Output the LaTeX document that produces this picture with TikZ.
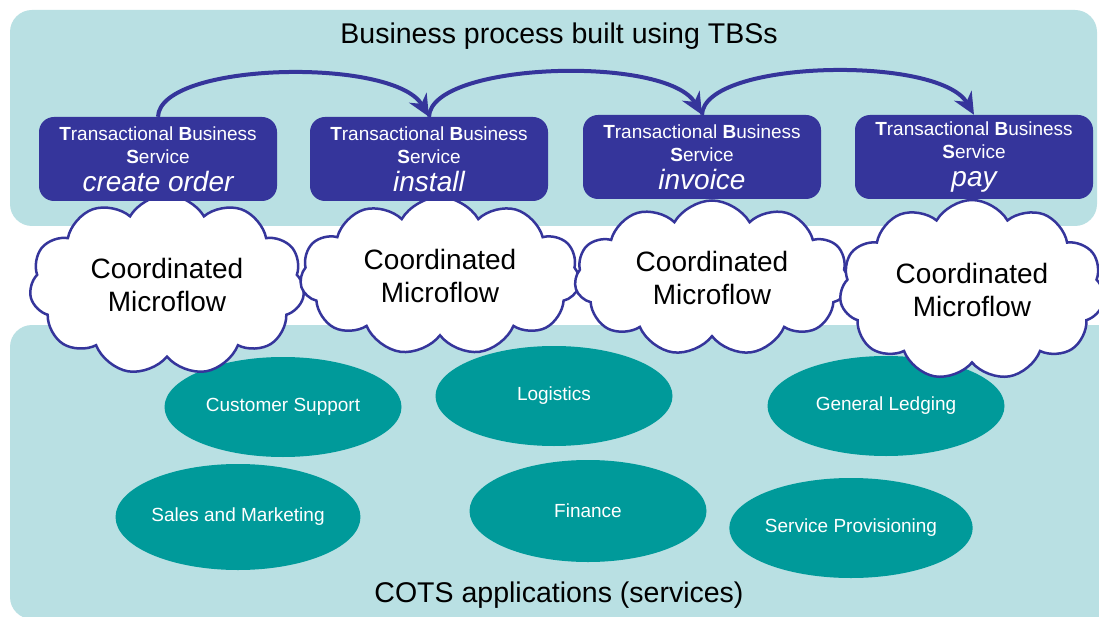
\documentclass[tikz,border=0pt]{standalone}
\usepackage{fontspec}
\setmainfont{Liberation Sans}
\usetikzlibrary{shapes.symbols,shapes.geometric,arrows.meta}
\definecolor{panelbg}{HTML}{B9E0E3}
\definecolor{tbsblue}{HTML}{35359B}
\definecolor{appteal}{HTML}{009A9A}
\newcommand\tbsnamefont{\fontsize{28}{30}\selectfont\itshape}

\begin{document}
\begin{tikzpicture}[x=1pt,y=-1pt,
  panel/.style={fill=panelbg, rounded corners=22pt},
  tbsbox/.style={fill=tbsblue, rounded corners=15pt, minimum width=238pt,
    minimum height=84pt, inner sep=0pt, text=white, align=center,
    font=\fontsize{19}{23}\selectfont},
  microflow/.style={cloud, cloud puffs=11, cloud puff arc=120,
    cloud ignores aspect, draw=tbsblue,
    line width=2.5pt, fill=white, inner sep=0pt, align=center,
    font=\fontsize{28}{33}\selectfont},
  app/.style={ellipse, fill=appteal, minimum width=237pt, minimum height=100pt,
    inner sep=0pt, text=white, font=\fontsize{19}{22}\selectfont},
  flow/.style={draw=tbsblue, line width=4pt,
    -{Stealth[length=22pt,width=20pt,inset=7pt]}},
  heading/.style={font=\fontsize{28.5}{32}\selectfont, anchor=base}
]
\useasboundingbox (0,0) rectangle (1099,617);
\fill[white] (0,0) rectangle (1099,617);

% background panels
\path[panel] (10,10) rectangle (1097,226);
\path[panel] (10,325) rectangle (1125,619);

% headings
\node[heading] (toptitle) at (559,44) {Business process built using TBSs};
\node[heading] (bottomtitle) at (559,602) {COTS applications (services)};

% COTS applications
\node[app] (cs) at (283,407) {Customer Support};
\node[app] (lg) at (554,396) {Logistics};
\node[app] (gl) at (886,406) {General Ledging};
\node[app, minimum height=106pt] (sm) at (238,517) {Sales and Marketing};
\node[app, minimum height=102pt] (fi) at (588,511) {Finance};
\node[app] (sp) at (851,528) {Service Provisioning};

% coordinated microflows
\node[microflow, minimum width=275pt, minimum height=180pt] (c1) at (167,285) {Coordinated\\Microflow};
\node[microflow, minimum width=280pt, minimum height=158pt] (c2) at (440,276) {Coordinated\\Microflow};
\node[microflow, minimum width=275pt, minimum height=155pt] (c3) at (712,278) {Coordinated\\Microflow};
\node[microflow, minimum width=265pt, minimum height=180pt] (c4) at (972,290) {Coordinated\\Microflow};

% transactional business services
\node[tbsbox] (b1) at (158,159) {\textbf{T}ransactional \textbf{B}usiness\\\textbf{S}ervice\\[5pt]{\tbsnamefont create order}};
\node[tbsbox] (b2) at (429,159) {\textbf{T}ransactional \textbf{B}usiness\\\textbf{S}ervice\\[5pt]{\tbsnamefont install}};
\node[tbsbox] (b3) at (702,157) {\textbf{T}ransactional \textbf{B}usiness\\\textbf{S}ervice\\[5pt]{\tbsnamefont invoice}};
\node[tbsbox] (b4) at (974,157) {\textbf{T}ransactional \textbf{B}usiness\\\textbf{S}ervice\\[5pt]{\tbsnamefont pay}};

% process flow
\draw[flow] (b1.north) .. controls +(2,-55) and +(-35,-60) .. (b2.north);
\draw[flow] (b2.north) .. controls +(2,-55) and +(-35,-60) .. (b3.north);
\draw[flow] (b3.north) .. controls +(2,-55) and +(-35,-60) .. (b4.north);
\end{tikzpicture}
\end{document}
